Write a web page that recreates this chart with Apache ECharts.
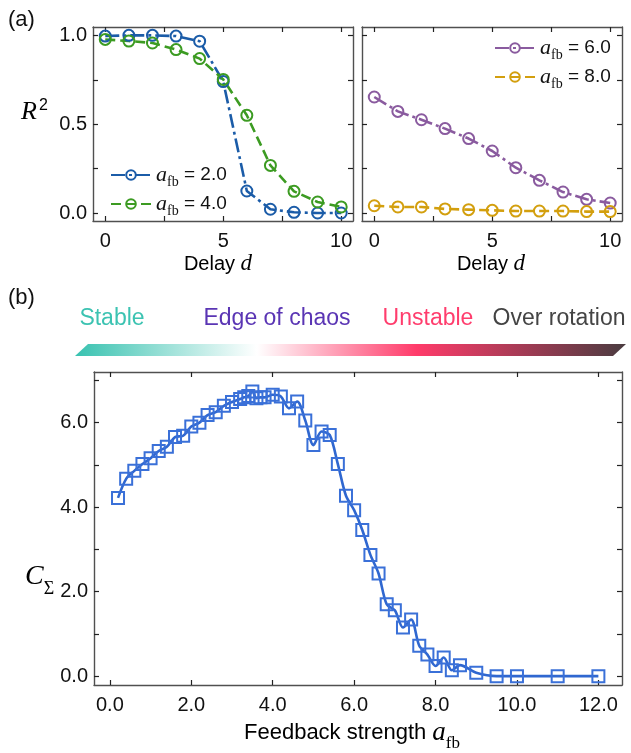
<!DOCTYPE html>
<html><head><meta charset="utf-8">
<script src="https://cdn.jsdelivr.net/npm/echarts@6/dist/echarts.min.js"></script>
<style>html,body{margin:0;padding:0;background:#fff}#c{width:631px;height:753px}</style>
</head><body><div id="c"></div>
<script>
// ---- data ----
const delays = [0,1,2,3,4,5,6,7,8,9,10];
const r2_a2 = [0.996,1.0,1.0,0.996,0.967,0.74,0.124,0.021,0.004,0.0,0.0];
const r2_a4 = [0.977,0.968,0.957,0.92,0.869,0.752,0.55,0.268,0.122,0.062,0.034];
const r2_a6 = [0.653,0.572,0.525,0.475,0.419,0.349,0.255,0.184,0.118,0.077,0.056];
const r2_a8 = [0.041,0.034,0.034,0.023,0.019,0.015,0.011,0.011,0.011,0.008,0.008];
const afb = [0.2,0.4,0.6,0.8,1.0,1.2,1.4,1.6,1.8,2.0,2.2,2.4,2.6,2.8,3.0,3.2,3.3,3.4,3.5,3.6,3.7,3.8,4.0,4.2,4.4,4.6,4.8,5.0,5.2,5.4,5.6,5.8,6.0,6.2,6.4,6.6,6.8,7.0,7.2,7.4,7.6,7.8,8.0,8.2,8.4,8.6,9.0,9.5,10.0,11.0,12.0];
const csum = [4.22,4.67,4.86,5.02,5.16,5.33,5.43,5.66,5.69,5.91,6.00,6.18,6.25,6.40,6.49,6.56,6.60,6.63,6.74,6.58,6.60,6.60,6.66,6.62,6.34,6.50,6.05,5.47,5.79,5.71,5.02,4.27,3.93,3.46,2.87,2.43,1.70,1.56,1.15,1.34,0.72,0.51,0.24,0.44,0.14,0.26,0.08,0.0,0.0,0.0,0.0];
const topXTicks = [0,2.5,5,7.5,10], topXLabels = [0,5,10];
const topYTicks = [0,0.25,0.5,0.75,1.0], topYLabels = [0,0.5,1.0];
const botXTicks = [0,2,4,6,8,10,12];
const botYTicks = [0,1,2,3,4,5,6,7], botYLabels = [0,2,4,6];
const phases = ['Stable','Edge of chaos','Unstable','Over rotation'];

const SANS = 'Liberation Sans, Arial, Helvetica, sans-serif';
const SERIF = 'Liberation Serif, DejaVu Serif, serif';
const FRAME = '#505050';

function zip(xs, ys){ return xs.map((x,i)=>[x, ys[i]]); }

function axisPair(grid, dim, min, max, ticks, labels, fmt, showLabel){
  const common = {
    gridIndex: grid, type:'value', min, max, splitLine:{show:false},
    axisLine:{show:true, onZero:false, lineStyle:{color:FRAME, width:1.4}},
    axisTick:{show:true, inside:true, length:5, customValues:ticks, lineStyle:{color:'#222', width:1.2}},
  };
  const a = Object.assign({}, common, {
    position: dim==='x'?'bottom':'left',
    axisLabel:{show:showLabel, customValues:labels, formatter:fmt, fontFamily:SANS, fontSize:20, color:'#111', margin: dim==='x'?10:6}
  });
  const b = Object.assign({}, common, {position: dim==='x'?'top':'right', axisLabel:{show:false}});
  return [a,b];
}
const f0 = v => String(Math.round(v));
const f1 = v => Number(v).toFixed(1);

const xAxes = [
  ...axisPair(0,'x',-0.52,10.5,topXTicks,topXLabels,f0,true),
  ...axisPair(1,'x',-0.52,10.5,topXTicks,topXLabels,f0,true),
  ...axisPair(2,'x',-0.39,12.58,botXTicks,botXTicks,f1,true),
];
const yAxes = [
  ...axisPair(0,'y',-0.045,1.047,topYTicks,topYLabels,f1,true),
  ...axisPair(1,'y',-0.045,1.047,topYTicks,topYLabels,f1,false),
  ...axisPair(2,'y',-0.21,7.2,botYTicks,botYLabels,f1,true),
];

function lineSeries(name, data, color, dash, xi, yi){
  return {
    name, type:'line', xAxisIndex:xi, yAxisIndex:yi, data: zip(delays, data),
    symbol:'circle', symbolSize:11,
    lineStyle:{color, width:2.6, type:dash},
    itemStyle:{color:'rgba(255,255,255,0)', borderColor:color, borderWidth:2},
    z:3
  };
}
const dashDot = [14,4,3,4], dashed = [10,5];
const C2='#1b5ca8', C4='#3c9b22', C6='#8a5b9f', C8='#d39f0e', CB='#2f67d0';

const legendRich = {
  i:{fontFamily:SERIF, fontStyle:'italic', fontSize:22, color:'#111', lineHeight:22, verticalAlign:'middle'},
  s:{fontFamily:SERIF, fontSize:14, color:'#111', lineHeight:13, verticalAlign:'bottom', padding:[0,0,-3,0]},
  t:{fontFamily:SANS, fontSize:19, color:'#111', lineHeight:22}
};
const legendFmt = n => '{i|a}{s|fb}{t| = ' + n.split('= ')[1] + '}';

const option = {
  animation:false,
  backgroundColor:'#fff',
  grid:[
    {left:93, top:27, width:260, height:194},
    {left:362, top:27, width:260, height:194},
    {left:94, top:372, width:528, height:313}
  ],
  xAxis:xAxes, yAxis:yAxes,
  legend:[
    {data:['a = 2.0','a = 4.0'], orient:'vertical', left:105, top:159, itemGap:4, itemWidth:40, itemHeight:12,
     formatter:legendFmt, textStyle:{rich:legendRich}},
    {data:['a = 6.0','a = 8.0'], orient:'vertical', left:489, top:32, itemGap:4, itemWidth:40, itemHeight:12,
     formatter:legendFmt, textStyle:{rich:legendRich}}
  ],
  series:[
    lineSeries('a = 2.0', r2_a2, C2, dashDot, 0, 0),
    lineSeries('a = 4.0', r2_a4, C4, dashed, 0, 0),
    lineSeries('a = 6.0', r2_a6, C6, dashDot, 2, 2),
    lineSeries('a = 8.0', r2_a8, C8, dashed, 2, 2),
    {name:'C', type:'line', xAxisIndex:4, yAxisIndex:4, data: zip(afb, csum),
     smooth:0.3, symbol:'rect', symbolSize:12,
     lineStyle:{color:CB, width:2.6},
     itemStyle:{color:'rgba(255,255,255,0)', borderColor:'#3a70d8', borderWidth:2}}
  ],
  graphic:[
    {type:'text', left:8, top:9, style:{text:'(a)', font:'22px '+SANS, fill:'#111'}},
    {type:'text', left:8, top:287, style:{text:'(b)', font:'22px '+SANS, fill:'#111'}},
    {type:'text', left:21, top:98, style:{text:'{r|R}{p|2}', rich:{
      r:{fontFamily:SERIF, fontStyle:'italic', fontSize:26, color:'#111', lineHeight:28},
      p:{fontFamily:SANS, fontSize:16, color:'#111', lineHeight:16, verticalAlign:'top', padding:[0,0,0,2]}}}},
    {type:'text', left:25, top:563, style:{text:'{r|C}{p|Σ}', rich:{
      r:{fontFamily:SERIF, fontStyle:'italic', fontSize:28, color:'#111', lineHeight:30},
      p:{fontFamily:SERIF, fontSize:18, color:'#111', lineHeight:18, verticalAlign:'bottom', padding:[0,0,-6,0]}}}},
    {type:'text', x:218, y:264, style:{text:'{t|Delay }{d|d}', align:'center', verticalAlign:'middle', rich:{
      t:{fontFamily:SANS, fontSize:20, color:'#111'}, d:{fontFamily:SERIF, fontStyle:'italic', fontSize:23, color:'#111'}}}},
    {type:'text', x:491, y:264, style:{text:'{t|Delay }{d|d}', align:'center', verticalAlign:'middle', rich:{
      t:{fontFamily:SANS, fontSize:20, color:'#111'}, d:{fontFamily:SERIF, fontStyle:'italic', fontSize:23, color:'#111'}}}},
    {type:'text', x:352, y:733, style:{text:'{t|Feedback strength }{a|a}{s|fb}', align:'center', verticalAlign:'middle', rich:{
      t:{fontFamily:SANS, fontSize:22, color:'#111', lineHeight:26},
      a:{fontFamily:SERIF, fontStyle:'italic', fontSize:27, color:'#111', lineHeight:26},
      s:{fontFamily:SERIF, fontSize:17, color:'#111', lineHeight:16, verticalAlign:'bottom', padding:[0,0,-6,0]}}}},
    {type:'text', x:112, y:319, style:{text:phases[0], align:'center', verticalAlign:'middle', font:'23px '+SANS, fill:'#3cc3b2'}},
    {type:'text', x:277, y:319, style:{text:phases[1], align:'center', verticalAlign:'middle', font:'23px '+SANS, fill:'#5a35b4'}},
    {type:'text', x:428, y:319, style:{text:phases[2], align:'center', verticalAlign:'middle', font:'23px '+SANS, fill:'#ff3d6d'}},
    {type:'text', x:559, y:319, style:{text:phases[3], align:'center', verticalAlign:'middle', font:'23px '+SANS, fill:'#444'}},
    {type:'polygon', shape:{points:[[75,356],[88,344],[626,344],[613,356]]},
     style:{fill:new echarts.graphic.LinearGradient(0,0,1,0,[
       {offset:0,color:'#38c2b0'},{offset:0.33,color:'#ffffff'},{offset:0.62,color:'#ff3b6a'},{offset:1,color:'#4a3c40'}])}}
  ]
};
const chart = echarts.init(document.getElementById('c'), null, {renderer:'canvas'});
chart.setOption(option);
</script></body></html>
